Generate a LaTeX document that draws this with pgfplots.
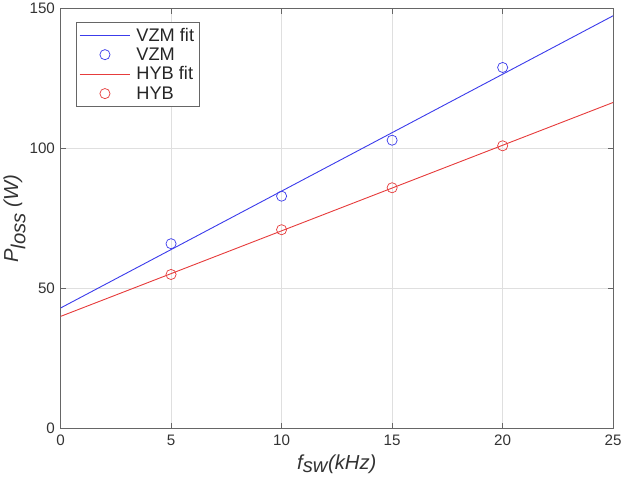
\documentclass[border=0pt]{standalone}
\usepackage{fontspec}
\setmainfont{Liberation Sans}
\usepackage{pgfplots}
\pgfplotsset{compat=1.18}

\definecolor{fitblue}{RGB}{60,60,235}
\definecolor{fitred}{RGB}{230,60,60}

\pgfplotsset{
    blueleg/.style={legend image code/.code={\draw[fitblue, line width=0.9pt] (0bp,0bp) -- (50bp,0bp);}},
    redleg/.style={legend image code/.code={\draw[fitred, line width=0.9pt] (0bp,0bp) -- (50bp,0bp);}},
    markleg/.style={legend image code/.code={\draw[##1] plot coordinates {(25bp,0bp)};}},
}

\begin{document}
\begin{tikzpicture}
\begin{axis}[
    scale only axis,
    width=544bp, height=413bp,
    xmin=0, xmax=25, ymin=0, ymax=150,
    xtick={0,5,...,25}, ytick={0,50,100,150},
    grid=major,
    grid style={gray!25, line width=0.6pt},
    axis line style={black!60, line width=0.8pt},
    tick style={black!60, line width=0.8pt},
    tick align=inside,
    major tick length=5bp,
    /pgf/number format/assume math mode=true,
    tick label style={font=\fontsize{15}{18}\selectfont, text=black!80},
    xticklabel style={yshift=-3bp},
    yticklabel style={xshift=-2bp},
    label style={font=\fontsize{20}{24}\selectfont, text=black!80},
    xlabel={\textit{f$_{\textit{sw}}$(kHz)}},
    ylabel={\textit{P$_{\textit{loss}}$ (W)}},
    xlabel style={yshift=-2bp},
    ylabel style={yshift=-3bp},
    legend style={at={(15bp,400bp)}, anchor=north west, draw=black!60, line width=0.6pt,
        font=\fontsize{18}{22}\selectfont, text=black!85, inner sep=3bp,
        nodes={inner sep=2.5bp},
        /tikz/every odd column/.append style={column sep=3bp}},
    legend cell align=left,
]
\addplot[fitblue, line width=0.9pt, blueleg] coordinates {(0,43) (25,147.5)};
\addlegendentry{VZM fit}
\addplot[only marks, mark=o, mark size=5bp, fitblue, mark options={line width=0.7pt}, markleg]
    coordinates {(5,66) (10,83) (15,103) (20,129)};
\addlegendentry{VZM}
\addplot[fitred, line width=0.9pt, redleg] coordinates {(0,40) (25,116.5)};
\addlegendentry{HYB fit}
\addplot[only marks, mark=o, mark size=5bp, fitred, mark options={line width=0.7pt}, markleg]
    coordinates {(5,55) (10,71) (15,86) (20,101)};
\addlegendentry{HYB}
\end{axis}
\end{tikzpicture}
\end{document}
